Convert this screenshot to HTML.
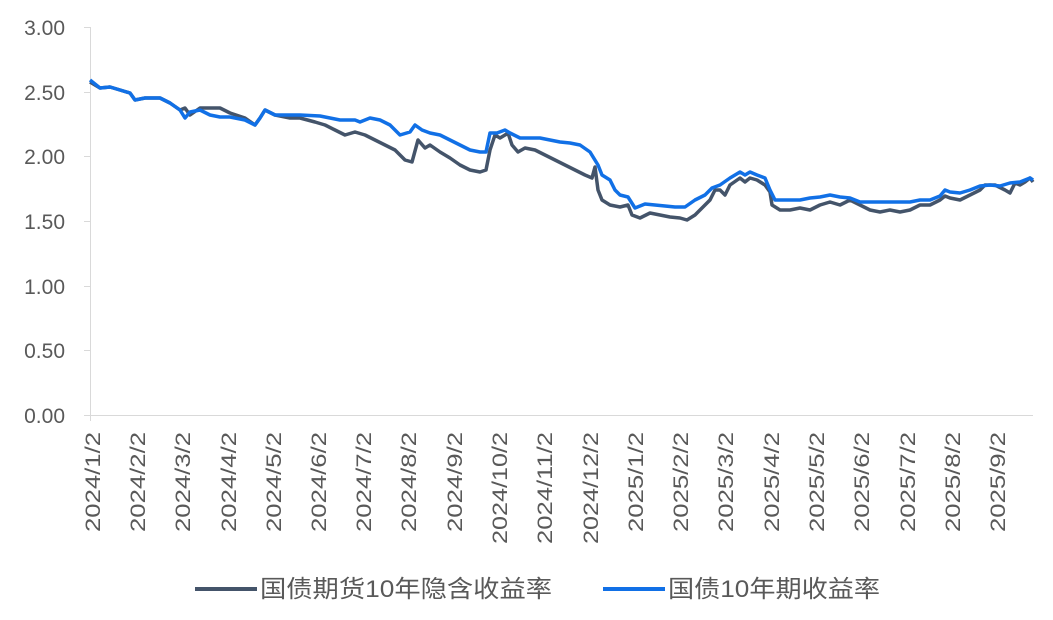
<!DOCTYPE html>
<html><head><meta charset="utf-8"><style>
body{margin:0;background:#fff}
text{font-family:"Liberation Sans","Noto Sans CJK SC",sans-serif;fill:#595959}
</style></head><body>
<svg width="1053" height="615" xmlns="http://www.w3.org/2000/svg">
<g stroke="#d9d9d9" stroke-width="1">
<line x1="90.5" y1="27" x2="90.5" y2="421"/>
<line x1="90" y1="415.5" x2="1033" y2="415.5"/>
<line x1="84" y1="27.5" x2="90" y2="27.5"/><line x1="84" y1="92.5" x2="90" y2="92.5"/><line x1="84" y1="156.5" x2="90" y2="156.5"/><line x1="84" y1="221.5" x2="90" y2="221.5"/><line x1="84" y1="286.5" x2="90" y2="286.5"/><line x1="84" y1="350.5" x2="90" y2="350.5"/><line x1="84" y1="415.5" x2="90" y2="415.5"/>
</g>
<g font-size="21" text-anchor="end">
<text x="65" y="35">3.00</text><text x="65" y="100">2.50</text><text x="65" y="164">2.00</text><text x="65" y="229">1.50</text><text x="65" y="294">1.00</text><text x="65" y="358">0.50</text><text x="65" y="423">0.00</text>
</g>
<g font-size="21" text-anchor="end">
<text transform="translate(100,432) rotate(-90)" textLength="100" lengthAdjust="spacingAndGlyphs">2024/1/2</text>
<text transform="translate(145,432) rotate(-90)" textLength="100" lengthAdjust="spacingAndGlyphs">2024/2/2</text>
<text transform="translate(190,432) rotate(-90)" textLength="100" lengthAdjust="spacingAndGlyphs">2024/3/2</text>
<text transform="translate(236,432) rotate(-90)" textLength="100" lengthAdjust="spacingAndGlyphs">2024/4/2</text>
<text transform="translate(281,432) rotate(-90)" textLength="100" lengthAdjust="spacingAndGlyphs">2024/5/2</text>
<text transform="translate(326,432) rotate(-90)" textLength="100" lengthAdjust="spacingAndGlyphs">2024/6/2</text>
<text transform="translate(371,432) rotate(-90)" textLength="100" lengthAdjust="spacingAndGlyphs">2024/7/2</text>
<text transform="translate(416,432) rotate(-90)" textLength="100" lengthAdjust="spacingAndGlyphs">2024/8/2</text>
<text transform="translate(462,432) rotate(-90)" textLength="100" lengthAdjust="spacingAndGlyphs">2024/9/2</text>
<text transform="translate(507,432) rotate(-90)" textLength="112" lengthAdjust="spacingAndGlyphs">2024/10/2</text>
<text transform="translate(552,432) rotate(-90)" textLength="112" lengthAdjust="spacingAndGlyphs">2024/11/2</text>
<text transform="translate(598,432) rotate(-90)" textLength="112" lengthAdjust="spacingAndGlyphs">2024/12/2</text>
<text transform="translate(643,432) rotate(-90)" textLength="100" lengthAdjust="spacingAndGlyphs">2025/1/2</text>
<text transform="translate(688,432) rotate(-90)" textLength="100" lengthAdjust="spacingAndGlyphs">2025/2/2</text>
<text transform="translate(733,432) rotate(-90)" textLength="100" lengthAdjust="spacingAndGlyphs">2025/3/2</text>
<text transform="translate(779,432) rotate(-90)" textLength="100" lengthAdjust="spacingAndGlyphs">2025/4/2</text>
<text transform="translate(824,432) rotate(-90)" textLength="100" lengthAdjust="spacingAndGlyphs">2025/5/2</text>
<text transform="translate(869,432) rotate(-90)" textLength="100" lengthAdjust="spacingAndGlyphs">2025/6/2</text>
<text transform="translate(915,432) rotate(-90)" textLength="100" lengthAdjust="spacingAndGlyphs">2025/7/2</text>
<text transform="translate(960,432) rotate(-90)" textLength="100" lengthAdjust="spacingAndGlyphs">2025/8/2</text>
<text transform="translate(1005,432) rotate(-90)" textLength="100" lengthAdjust="spacingAndGlyphs">2025/9/2</text>
</g>
<polyline fill="none" stroke="#44546a" stroke-width="3.5" stroke-linejoin="round" points="90,82 100,88 110,87 120,90 130,93 135,100 145,98 160,98 170,103 180,110 185,108 190,115 200,108 210,108 220,108 230,113 245,118 255,125 260,118 265,110 275,115 290,118 300,118 315,122 325,125 335,130 345,135 355,132 365,135 375,140 385,145 395,150 405,160 412,162 418,140 425,148 430,145 440,152 450,158 460,165 470,170 480,172 486,170 490,150 495,135 500,138 505,135 508,133 512,145 518,152 525,148 535,150 545,155 555,160 565,165 575,170 585,175 592,178 595,167 598,190 602,200 610,205 620,207 628,205 632,215 640,218 650,213 660,215 670,217 680,218 687,220 695,215 700,210 710,200 715,190 720,190 725,195 730,185 740,178 745,182 750,178 757,180 765,185 770,192 772,205 780,210 790,210 800,208 810,210 820,205 830,202 840,205 850,200 860,205 870,210 880,212 890,210 900,212 910,210 920,205 930,205 940,200 945,196 950,198 960,200 970,195 980,190 985,185 995,185 1005,190 1010,193 1015,183 1020,185 1025,182 1030,178 1033,182"/>
<polyline fill="none" stroke="#1170e6" stroke-width="3.5" stroke-linejoin="round" points="90,80 100,88 110,87 120,90 130,93 135,100 145,98 160,98 170,103 180,110 185,118 190,112 200,110 210,115 220,117 230,117 245,120 255,125 260,118 265,110 275,115 290,115 300,115 320,116 340,120 355,120 360,122 370,118 380,120 390,125 400,135 410,132 415,125 422,130 430,133 440,135 450,140 460,145 470,150 480,152 486,152 490,133 497,133 505,130 510,133 520,138 530,138 540,138 550,140 560,142 570,143 580,145 590,152 598,165 602,175 610,180 615,190 620,195 628,197 635,208 645,204 655,205 665,206 675,207 685,207 695,200 705,195 712,188 720,185 730,178 740,172 745,175 750,172 757,175 765,178 770,190 775,200 785,200 800,200 810,198 820,197 830,195 840,197 850,198 860,202 870,202 890,202 910,202 920,200 930,200 940,196 945,190 950,192 960,193 970,190 980,186 990,185 1000,186 1010,183 1020,182 1030,178 1033,180"/>
<line x1="195" y1="589" x2="257" y2="589" stroke="#44546a" stroke-width="4"/>
<text x="260" y="597" font-size="24" textLength="292" lengthAdjust="spacingAndGlyphs">国债期货10年隐含收益率</text>
<line x1="603" y1="589" x2="665" y2="589" stroke="#1170e6" stroke-width="4"/>
<text x="668" y="597" font-size="24" textLength="212" lengthAdjust="spacingAndGlyphs">国债10年期收益率</text>
</svg>
</body></html>
